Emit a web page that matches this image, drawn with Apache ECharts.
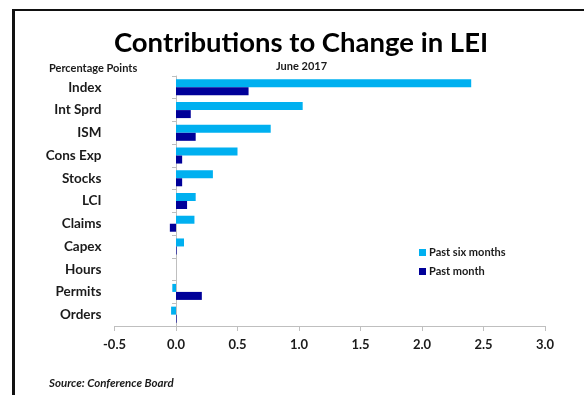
<!DOCTYPE html>
<html><head><meta charset="utf-8">
<script src="https://cdn.jsdelivr.net/npm/echarts@6/dist/echarts.min.js"></script>
<style>html,body{margin:0;padding:0;background:#fff}#c{width:584px;height:395px}</style>
</head><body><div id="c"></div>
<script>
const categories = ["Index","Int Sprd","ISM","Cons Exp","Stocks","LCI","Claims","Capex","Hours","Permits","Orders"];
const pastSixMonths = [2.40, 1.03, 0.77, 0.50, 0.30, 0.16, 0.15, 0.065, 0, -0.03, -0.04];
const pastMonth = [0.59, 0.12, 0.16, 0.05, 0.05, 0.09, -0.05, 0.005, 0, 0.21, 0.005];
const xTicks = {min: -0.5, max: 3.0, interval: 0.5};

const F = 'Lato, "Open Sans", sans-serif';
const chart = echarts.init(document.getElementById('c'), null, {renderer: 'canvas'});
chart.setOption({
  animation: false,
  backgroundColor: '#fff',
  graphic: [
    {type: 'rect', shape: {x: 12, y: 9, width: 600, height: 2}, style: {fill: '#111'}},
    {type: 'rect', shape: {x: 12, y: 9, width: 3, height: 400}, style: {fill: '#111'}},
    {type: 'text', left: 49, top: 63, style: {text: 'Percentage Points', font: 'bold 11px ' + F, fill: '#1a1a1a'}},
    {type: 'text', left: 276, top: 61, style: {text: 'June 2017', font: 'bold 11px ' + F, fill: '#1a1a1a'}},
    {type: 'text', left: 49, top: 377, style: {text: 'Source: Conference Board', font: 'italic bold 11.5px ' + F, fill: '#1a1a1a'}},
    {type: 'text', x: 301, y: 29, style: {text: 'Contributions to Change in LEI', align: 'center',
      font: 'bold 27.5px ' + F, fill: '#000'}}
  ],
  legend: {
    orient: 'vertical', left: 414, top: 242, itemWidth: 7, itemHeight: 7, itemGap: 8,
    icon: 'rect',
    textStyle: {fontFamily: F, fontWeight: 'bold', fontSize: 11, color: '#1a1a1a', padding: [0,0,0,-2]},
    data: ['Past six months', 'Past month']
  },
  grid: {left: 114.5, right: 39, top: 76, bottom: 69, containLabel: false, outerBoundsMode: 'none'},
  xAxis: {
    type: 'value', min: xTicks.min, max: xTicks.max, interval: xTicks.interval,
    axisLine: {show: true, lineStyle: {color: '#bfbfbf', width: 1}},
    axisTick: {show: true, length: 5, lineStyle: {color: '#bfbfbf'}},
    splitLine: {show: false},
    axisLabel: {fontFamily: F, fontWeight: 'bold', fontSize: 13, color: '#1a1a1a', margin: 12,
      formatter: v => v.toFixed(1)}
  },
  yAxis: {
    type: 'category', data: categories, inverse: true,
    axisLine: {show: true, onZero: true, lineStyle: {color: '#bfbfbf'}},
    axisTick: {show: true, length: 4, lineStyle: {color: '#bfbfbf'}},
    axisLabel: {fontFamily: F, fontWeight: 'bold', fontSize: 13.5, color: '#1a1a1a', margin: 13}
  },
  series: [
    {name: 'Past six months', type: 'bar', data: pastSixMonths, barWidth: 8, barGap: '0%',
      itemStyle: {color: '#00b0f0'}},
    {name: 'Past month', type: 'bar', data: pastMonth, barWidth: 8, barGap: '0%',
      itemStyle: {color: '#000099'}}
  ]
});
</script></body></html>
